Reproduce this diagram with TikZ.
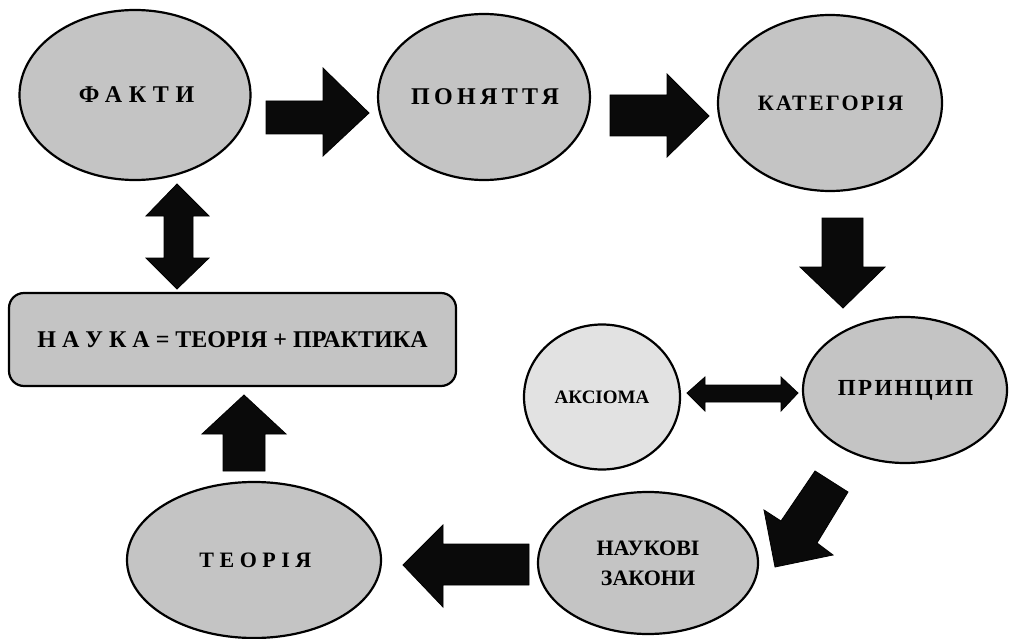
\documentclass[tikz,border=0pt]{standalone}
\usepackage{fontspec}
\setmainfont{Liberation Serif}
\usetikzlibrary{shapes.geometric}
\definecolor{nodegray}{RGB}{196,196,196}
\definecolor{lightgray2}{RGB}{226,226,226}
\definecolor{arrowblack}{RGB}{10,10,10}
% letter-spaced word, re-centred for the space added after its last letter
\newcommand{\spc}[2]{{\addfontfeature{LetterSpace=#1}\kern\dimexpr 0.005em*#1\relax#2}}
\begin{document}
\begin{tikzpicture}[x=1pt,y=-1pt,
  oval/.style={ellipse,draw=black,line width=2.2pt,fill=nodegray,inner sep=0pt,align=center},
  blk/.style={draw=black,line width=0.8pt,fill=arrowblack,line join=miter}]
\useasboundingbox (0,0) rectangle (1011,639);

% concept ellipses
\node[oval,minimum width=231pt,minimum height=170pt,font=\bfseries\fontsize{24}{28}\selectfont] (fakty) at (135,95)
  {\spc{28}{ФАКТИ}};
\node[oval,minimum width=210pt,minimum height=166pt,font=\bfseries\fontsize{24}{28}\selectfont] (ponyattya) at (484,97)
  {\spc{18}{ПОНЯТТЯ}};
\node[oval,minimum width=224pt,minimum height=176pt,font=\bfseries\fontsize{22}{26}\selectfont] (katehoriya) at (830,103)
  {\spc{10}{КАТЕГОРІЯ}};
\node[oval,minimum width=204pt,minimum height=146pt,font=\bfseries\fontsize{23}{27}\selectfont] (pryntsyp) at (905,390)
  {\spc{10}{ПРИНЦИП}};
\node[oval,fill=lightgray2,minimum width=156pt,minimum height=145pt,font=\bfseries\fontsize{19}{22}\selectfont] (aksioma) at (602,397)
  {АКСІОМА};
\node[oval,minimum width=220pt,minimum height=142pt,font=\bfseries\fontsize{22}{30}\selectfont] (zakony) at (648,563)
  {НАУКОВІ\\ЗАКОНИ};
\node[oval,minimum width=254pt,minimum height=156pt,font=\bfseries\fontsize{22}{26}\selectfont] (teoriya) at (254,560)
  {\spc{25}{ТЕОРІЯ}};

% central box
\node[draw=black,line width=2.2pt,fill=nodegray,rounded corners=15pt,
  minimum width=447pt,minimum height=93pt,inner sep=0pt,
  font=\bfseries\fontsize{24}{28}\selectfont] (nauka) at (232.5,339.5)
  {Н А У К А = ТЕОРІЯ + ПРАКТИКА};

% block arrows
% fakty -> ponyattya
\draw[blk] (266,101) -- (323,101) -- (323,68) -- (369,113) -- (323,156) -- (323,134) -- (266,134) -- cycle;
% ponyattya -> katehoriya
\draw[blk] (610,95) -- (667,95) -- (667,74) -- (709,116) -- (667,157) -- (667,136) -- (610,136) -- cycle;
% katehoriya -> pryntsyp
\draw[blk] (822,218) -- (863,218) -- (863,267) -- (885,267) -- (843,308) -- (800,267) -- (822,267) -- cycle;
% aksioma <-> pryntsyp
\draw[blk] (687,393) -- (705,377) -- (705,385) -- (781,385) -- (781,377) -- (798,393)
  -- (781,411) -- (781,402) -- (705,402) -- (705,411) -- cycle;
% pryntsyp -> zakony
\draw[blk] (815,471) -- (848,492) -- (817,543) -- (833,555) -- (775,567) -- (764,510) -- (781,521) -- cycle;
% zakony -> teoriya
\draw[blk] (529,544) -- (443,544) -- (443,525) -- (403,565) -- (443,607) -- (443,585) -- (529,585) -- cycle;
% teoriya -> nauka
\draw[blk] (223,471) -- (223,434) -- (202,434) -- (244,395) -- (286,434) -- (265,434) -- (265,471) -- cycle;
% fakty <-> nauka
\draw[blk] (177,184) -- (209,216) -- (193,216) -- (193,258) -- (209,258) -- (177,289)
  -- (146,258) -- (164,258) -- (164,216) -- (146,216) -- cycle;
\end{tikzpicture}
\end{document}
